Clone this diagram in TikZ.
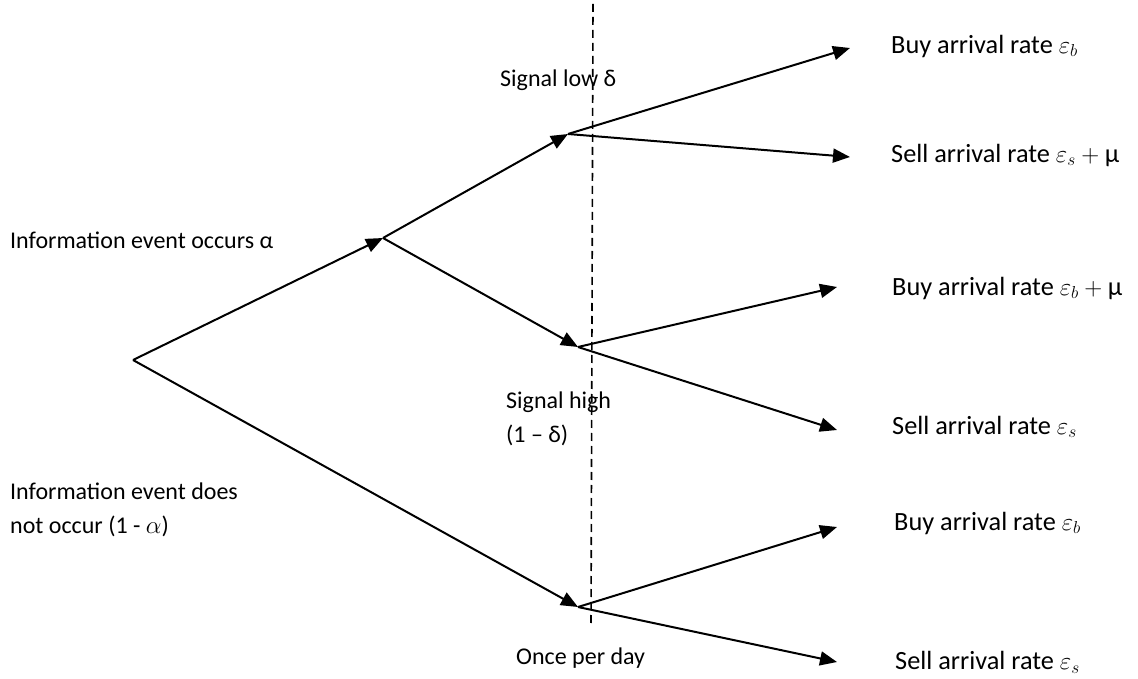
\documentclass[tikz,border=0pt]{standalone}
\usepackage{fontspec}
\setmainfont{Carlito}
\usetikzlibrary{arrows.meta}
\begin{document}
\begin{tikzpicture}[x=1pt,y=-1pt,
  every node/.style={font=\fontsize{24}{34}\selectfont, inner sep=0pt, align=left},
  branch/.style={line width=2pt, -{Triangle[length=17pt,width=14pt]}},
  divider/.style={line width=1.6pt, dash pattern=on 8pt off 5pt},
  lbl/.style={anchor=west},
  leaf/.style={anchor=west, font=\fontsize{26.3}{32}\selectfont}]
\useasboundingbox (0,0) rectangle (1138,679);
% decision points
\coordinate (R) at (133,360);
\coordinate (A) at (383,238);
\coordinate (B) at (568,134);
\coordinate (C) at (578,347);
\coordinate (D) at (578,607);
% leaf ends
\coordinate (B1) at (850,48);
\coordinate (B2) at (850,157);
\coordinate (C1) at (837,287);
\coordinate (C2) at (837,430);
\coordinate (D1) at (837,527);
\coordinate (D2) at (837,662);
% dashed divider
\coordinate (Vt) at (593,4);
\coordinate (Vb) at (591,627);
\draw[divider] (Vt) -- (Vb);
% branches
\draw[branch] (R) -- (A);
\draw[branch] (R) -- (D);
\draw[branch] (A) -- (B);
\draw[branch] (A) -- (C);
\draw[branch] (B) -- (B1);
\draw[branch] (B) -- (B2);
\draw[branch] (C) -- (C1);
\draw[branch] (C) -- (C2);
\draw[branch] (D) -- (D1);
\draw[branch] (D) -- (D2);
% labels
\node[lbl] (tocc) at (10,240) {Information event occurs α};
\node[lbl] (tnot) at (10,510) {Information event does\\not occur (1 - $\alpha$)};
\node[lbl] (tlow) at (500,80) {Signal low δ};
\node[lbl] (thigh) at (506,419) {Signal high\\(1 – δ)};
\node[lbl] (tonce) at (516,658) {Once per day};
\node[leaf] (l1) at (891,46) {Buy arrival rate $\varepsilon_b$};
\node[leaf] (l2) at (891,155) {Sell arrival rate $\varepsilon_s + {}$μ};
\node[leaf] (l3) at (892,288) {Buy arrival rate $\varepsilon_b + {}$μ};
\node[leaf] (l4) at (892,427) {Sell arrival rate $\varepsilon_s$};
\node[leaf] (l5) at (894,523) {Buy arrival rate $\varepsilon_b$};
\node[leaf] (l6) at (895,662) {Sell arrival rate $\varepsilon_s$};
\end{tikzpicture}
\end{document}
